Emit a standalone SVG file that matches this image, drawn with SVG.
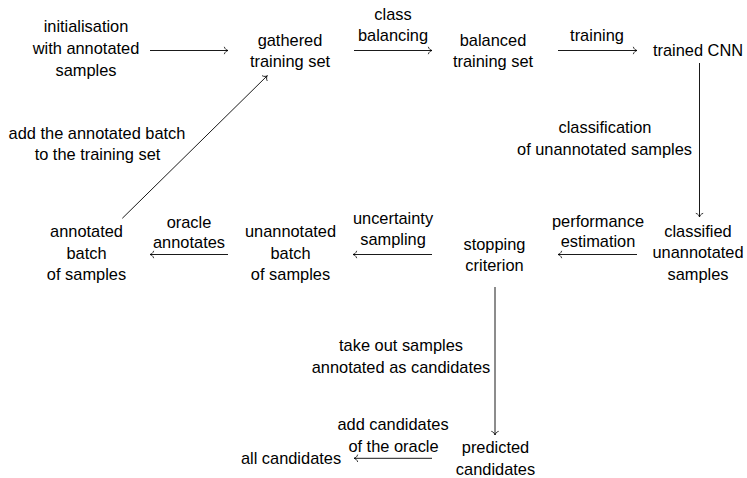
<svg xmlns="http://www.w3.org/2000/svg" width="747" height="478" viewBox="0 0 747 478">
<defs>
<style>
text{font-family:"Liberation Sans",Arial,sans-serif;font-size:16.4px;fill:#000;text-anchor:middle}
.c{stroke:#000;stroke-width:0.9;fill:none;marker-end:url(#ah)}
</style>
<marker id="ah" markerUnits="userSpaceOnUse" markerWidth="10" markerHeight="10" refX="0" refY="0" viewBox="-5 -5 10 10" orient="auto" overflow="visible">
<path d="M-3.6,-3.3 C-3.1,-1.4 -1.3,-0.3 0,0 C-1.3,0.3 -3.1,1.4 -3.6,3.3" stroke="#000" stroke-width="0.8" fill="none" stroke-linecap="round"/>
</marker>
</defs>
<rect width="747" height="478" fill="#fff"/>
<g id="connectors">
<line class="c" x1="150" y1="50.5" x2="228" y2="50.5"/>
<line class="c" x1="354" y1="50.5" x2="432" y2="50.5"/>
<line class="c" x1="558" y1="50.5" x2="637" y2="50.5"/>
<line class="c" x1="699.5" y1="63" x2="699.5" y2="217"/>
<line class="c" x1="637" y1="254.5" x2="558" y2="254.5"/>
<line class="c" x1="432" y1="254.5" x2="353" y2="254.5"/>
<line class="c" x1="228" y1="254.5" x2="150" y2="254.5"/>
<line class="c" x1="122.3" y1="218.3" x2="267.3" y2="75.7"/>
<line class="c" x1="495" y1="287" x2="495" y2="435"/>
<line class="c" x1="432" y1="458.3" x2="354" y2="458.3"/>
<g id="edge-labels">
<text x="393" y="20">class</text><text x="393" y="41">balancing</text>
<text x="597" y="41">training</text>
<text x="605" y="133">classification</text><text x="604.5" y="154.5">of unannotated samples</text>
<text x="598" y="226.5">performance</text><text x="598" y="247">estimation</text>
<text x="393" y="224">uncertainty</text><text x="393" y="245">sampling</text>
<text x="189" y="227.5">oracle</text><text x="189" y="248">annotates</text>
<text x="97" y="138.5">add the annotated batch</text><text x="97.5" y="160">to the training set</text>
<text x="401" y="351">take out samples</text><text x="401" y="372.5">annotated as candidates</text>
<text x="393" y="430">add candidates</text><text x="393.5" y="451.5">of the oracle</text>
</g>
</g>
<g id="init"><text x="86" y="32">initialisation</text><text x="86" y="54">with annotated</text><text x="86" y="76">samples</text></g>
<g id="gathered"><text x="290" y="45.5">gathered</text><text x="290" y="67">training set</text></g>
<g id="balanced"><text x="493" y="45.5">balanced</text><text x="493" y="67">training set</text></g>
<g id="cnn"><text x="698" y="56">trained CNN</text></g>
<g id="classified"><text x="698" y="236.5">classified</text><text x="698" y="258">unannotated</text><text x="698" y="280">samples</text></g>
<g id="stopping"><text x="494.5" y="249.5">stopping</text><text x="494.5" y="271">criterion</text></g>
<g id="unannotated"><text x="290.5" y="237">unannotated</text><text x="290.5" y="258.5">batch</text><text x="290.5" y="280">of samples</text></g>
<g id="annotated"><text x="86.5" y="237">annotated</text><text x="86.5" y="258.5">batch</text><text x="86.5" y="280">of samples</text></g>
<g id="predicted"><text x="495.5" y="453">predicted</text><text x="495.5" y="474.5">candidates</text></g>
<g id="all"><text x="291" y="464">all candidates</text></g>
</svg>
